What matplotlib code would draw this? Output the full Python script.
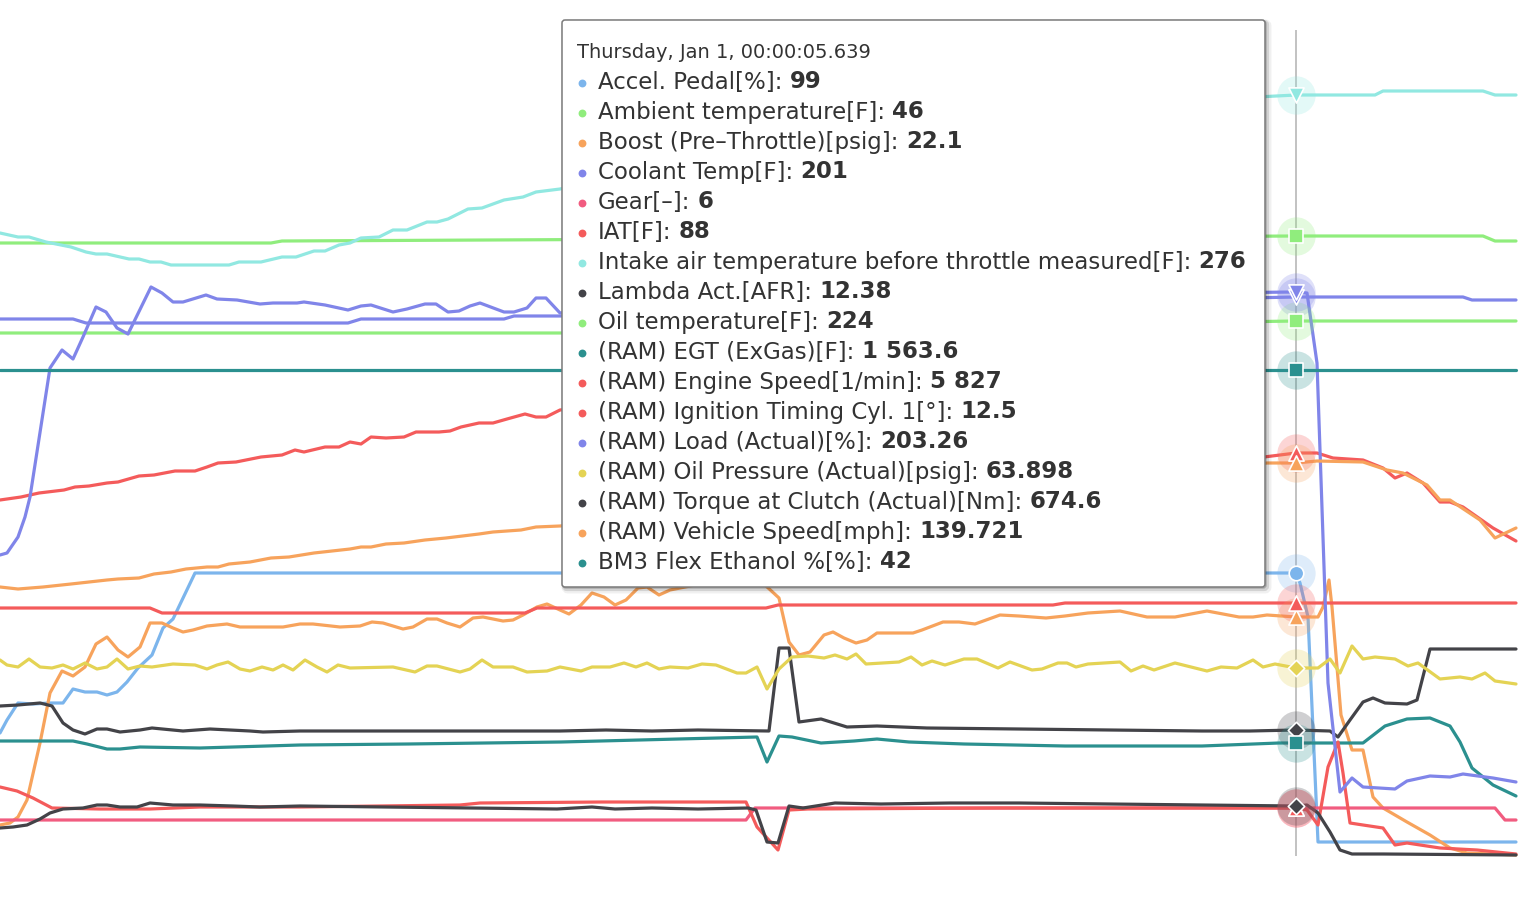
import numpy as np
import matplotlib.pyplot as plt
from matplotlib.patches import FancyBboxPatch

# traces: (sample position, level) with level counted down from the top
accel_pedal = [(0, 733), (7, 720), (18, 703), (33, 704), (50, 703), (63, 703), (73, 689), (85, 692), (97, 692),
               (107, 695), (117, 692), (127, 682), (138, 668), (152, 655), (163, 628), (173, 619), (195, 573),
               (700, 573), (1296, 573), (1300, 583), (1308, 617), (1318, 842), (1516, 842)]
ambient_temp = [(0, 243), (271, 243), (282, 241), (900, 238), (1296, 236), (1483, 236), (1495, 241), (1516, 241)]
boost = [(0, 825), (10, 823), (18, 817), (27, 800), (40, 743), (50, 693), (62, 671), (73, 676), (85, 667), (96, 644),
         (107, 637), (118, 650), (128, 657), (140, 647), (150, 623), (162, 623), (173, 628), (183, 632), (193, 630),
         (207, 626), (227, 624), (240, 627), (283, 627), (300, 624), (313, 624), (340, 627), (360, 626), (372, 622),
         (383, 623), (403, 629), (413, 627), (427, 619), (437, 619), (447, 623), (460, 627), (473, 618), (483, 617),
         (503, 621), (513, 620), (523, 615), (537, 607), (547, 604), (560, 610), (569, 614), (581, 605), (592, 593),
         (604, 597), (615, 605), (626, 600), (638, 588), (647, 587), (659, 595), (670, 590), (700, 584), (740, 582),
         (765, 585), (779, 598), (789, 642), (799, 655), (810, 652), (824, 635), (833, 632), (844, 638), (856, 643),
         (867, 640), (877, 633), (895, 633), (913, 633), (922, 630), (943, 622), (959, 622), (975, 624), (1000, 615),
         (1019, 616), (1046, 618), (1065, 616), (1088, 613), (1120, 611), (1147, 617), (1175, 617), (1207, 611),
         (1239, 617), (1253, 617), (1267, 615), (1296, 617), (1318, 617), (1323, 607), (1329, 580), (1332, 607),
         (1341, 715), (1352, 750), (1363, 750), (1373, 797), (1383, 808), (1407, 822), (1430, 835), (1450, 848),
         (1467, 853), (1516, 855)]
coolant = [(0, 319), (73, 319), (86, 323), (348, 323), (361, 319), (504, 319), (514, 316), (560, 316), (900, 305),
           (1296, 297), (1463, 297), (1472, 300), (1516, 300)]
gear = [(0, 820), (746, 820), (755, 808), (1296, 808), (1495, 808), (1505, 820), (1516, 820)]
iat = [(0, 608), (150, 608), (162, 613), (525, 613), (537, 608), (766, 608), (778, 605), (1053, 605), (1065, 603),
       (1516, 603)]
intake_air_throttle = [(0, 233), (18, 237), (29, 237), (46, 242), (71, 247), (86, 252), (96, 254), (107, 254),
                       (129, 259), (139, 259), (150, 262), (161, 262), (171, 265), (229, 265), (239, 262), (261, 262),
                       (282, 257), (296, 257), (314, 251), (325, 251), (339, 245), (350, 243), (361, 238), (379, 237),
                       (393, 230), (407, 230), (427, 222), (437, 222), (448, 219), (468, 209), (482, 208), (504, 200),
                       (523, 197), (536, 192), (560, 189), (700, 160), (900, 125), (1100, 105), (1296, 95),
                       (1375, 95), (1383, 91), (1483, 91), (1495, 95), (1516, 95)]
lambda_afr = [(0, 706), (18, 705), (40, 703), (52, 706), (63, 723), (73, 730), (85, 734), (97, 729), (107, 729),
              (120, 732), (140, 730), (152, 728), (183, 731), (210, 729), (250, 731), (263, 732), (300, 731),
              (560, 731), (606, 730), (652, 731), (698, 730), (769, 731), (779, 648), (789, 648), (799, 722),
              (821, 719), (847, 727), (877, 726), (927, 728), (1019, 729), (1110, 730), (1202, 731), (1250, 731),
              (1296, 730), (1330, 731), (1338, 737), (1350, 720), (1363, 702), (1373, 698), (1385, 703), (1407, 704),
              (1417, 700), (1430, 649), (1516, 649)]
oil_temp = [(0, 333), (560, 333), (900, 327), (1296, 321), (1516, 321)]
egt = [(0, 741), (73, 741), (87, 744), (107, 749), (120, 749), (140, 747), (200, 748), (300, 745), (408, 744),
       (561, 742), (757, 737), (767, 762), (779, 736), (792, 737), (821, 743), (854, 741), (877, 739), (909, 742),
       (964, 744), (1065, 746), (1202, 746), (1279, 743), (1296, 743), (1363, 743), (1385, 726), (1407, 719),
       (1430, 718), (1450, 726), (1460, 742), (1472, 768), (1493, 785), (1516, 796)]
engine_speed = [(0, 500), (21, 497), (39, 493), (64, 490), (75, 487), (89, 486), (107, 483), (118, 482), (139, 476),
                (154, 475), (175, 471), (195, 471), (207, 467), (218, 463), (236, 462), (261, 457), (282, 455),
                (295, 450), (304, 452), (325, 447), (339, 447), (350, 442), (361, 444), (371, 437), (386, 438),
                (404, 437), (416, 432), (439, 432), (450, 431), (461, 427), (479, 423), (493, 423), (507, 419),
                (525, 414), (536, 417), (546, 417), (560, 410), (650, 400), (745, 393), (770, 470), (790, 520),
                (1000, 490), (1296, 453), (1317, 453), (1333, 458), (1363, 460), (1383, 468), (1395, 478),
                (1407, 473), (1423, 483), (1440, 502), (1450, 502), (1463, 507), (1493, 528), (1516, 541)]
ignition = [(0, 787), (17, 791), (33, 798), (52, 808), (100, 809), (150, 809), (200, 807), (300, 807), (460, 805),
            (480, 803), (602, 802), (746, 802), (757, 827), (778, 850), (789, 810), (808, 809), (1000, 808),
            (1296, 808), (1307, 810), (1318, 825), (1328, 767), (1338, 742), (1343, 773), (1350, 823), (1363, 825),
            (1383, 828), (1395, 845), (1407, 843), (1440, 848), (1477, 850), (1516, 854)]
load = [(0, 555), (7, 553), (18, 537), (25, 517), (30, 497), (50, 368), (62, 350), (73, 359), (83, 337), (96, 307),
        (106, 312), (117, 328), (128, 334), (151, 287), (162, 293), (173, 302), (183, 302), (206, 295), (217, 299),
        (237, 300), (260, 304), (273, 303), (297, 303), (304, 302), (325, 305), (348, 310), (361, 306), (371, 305),
        (393, 312), (407, 309), (425, 304), (436, 304), (448, 312), (459, 311), (470, 306), (480, 303), (504, 312),
        (514, 312), (527, 308), (536, 298), (546, 298), (560, 313), (700, 300), (760, 305), (780, 340), (800, 300),
        (1000, 295), (1296, 292), (1307, 293), (1317, 363), (1320, 450), (1328, 683), (1340, 792), (1352, 778),
        (1363, 787), (1395, 789), (1407, 781), (1430, 776), (1450, 777), (1463, 774), (1493, 778), (1516, 782)]
oil_pressure = [(0, 660), (7, 665), (18, 667), (29, 659), (40, 667), (52, 668), (63, 665), (73, 669), (85, 663),
                (97, 669), (107, 667), (117, 659), (128, 669), (140, 666), (152, 667), (173, 664), (195, 665),
                (207, 669), (217, 665), (228, 662), (240, 669), (250, 671), (262, 667), (273, 670), (283, 665),
                (293, 670), (305, 660), (317, 667), (327, 672), (338, 665), (350, 668), (393, 667), (415, 672),
                (427, 666), (437, 666), (460, 672), (470, 669), (482, 660), (493, 667), (513, 667), (527, 672),
                (547, 671), (560, 667), (581, 671), (592, 667), (610, 667), (624, 663), (636, 667), (647, 663),
                (659, 669), (670, 667), (688, 668), (702, 664), (716, 665), (737, 673), (746, 673), (757, 667),
                (767, 689), (779, 669), (792, 657), (808, 656), (824, 658), (835, 655), (847, 659), (856, 654),
                (866, 664), (899, 662), (911, 657), (922, 665), (932, 661), (945, 665), (964, 659), (977, 659),
                (998, 668), (1010, 662), (1032, 670), (1042, 669), (1058, 663), (1067, 663), (1076, 667), (1088, 664),
                (1120, 662), (1131, 671), (1143, 666), (1154, 670), (1175, 663), (1195, 668), (1207, 671),
                (1221, 667), (1237, 668), (1253, 660), (1263, 667), (1275, 664), (1296, 668), (1318, 668),
                (1330, 659), (1340, 673), (1352, 646), (1363, 659), (1375, 657), (1395, 659), (1408, 666),
                (1418, 663), (1440, 679), (1460, 677), (1472, 679), (1485, 673), (1495, 681), (1516, 684)]
torque = [(0, 828), (13, 827), (27, 825), (40, 819), (50, 813), (63, 809), (83, 808), (97, 805), (107, 805),
          (120, 807), (137, 807), (150, 803), (173, 805), (200, 805), (233, 806), (260, 807), (300, 806), (557, 809),
          (592, 807), (615, 809), (652, 808), (698, 809), (748, 808), (756, 810), (767, 842), (778, 843), (789, 806),
          (803, 808), (835, 803), (881, 804), (950, 803), (1019, 803), (1110, 804), (1202, 805), (1296, 806),
          (1307, 805), (1318, 813), (1330, 832), (1340, 850), (1352, 854), (1383, 854), (1516, 855)]
vehicle_speed = [(0, 587), (18, 589), (43, 587), (71, 584), (107, 580), (118, 579), (139, 578), (154, 574),
                 (171, 572), (186, 569), (207, 567), (218, 567), (229, 564), (250, 562), (271, 558), (289, 557),
                 (314, 553), (350, 549), (361, 547), (371, 547), (386, 544), (404, 543), (425, 540), (446, 538),
                 (479, 534), (493, 532), (521, 530), (536, 527), (560, 526), (900, 495), (1267, 463), (1296, 463),
                 (1317, 461), (1363, 462), (1387, 470), (1403, 473), (1427, 485), (1440, 500), (1450, 500),
                 (1480, 520), (1495, 538), (1516, 528)]
flex_ethanol = [(0, 370), (1296, 370), (1516, 370)]

# tooltip content
tip_header = "Thursday, Jan 1, 00:00:05.639"
tip_labels = ["Accel. Pedal[%]", "Ambient temperature[F]", "Boost (Pre\u2013Throttle)[psig]", "Coolant Temp[F]",
              "Gear[\u2013]", "IAT[F]", "Intake air temperature before throttle measured[F]", "Lambda Act.[AFR]",
              "Oil temperature[F]", "(RAM) EGT (ExGas)[F]", "(RAM) Engine Speed[1/min]",
              "(RAM) Ignition Timing Cyl. 1[\u00b0]", "(RAM) Load (Actual)[%]", "(RAM) Oil Pressure (Actual)[psig]",
              "(RAM) Torque at Clutch (Actual)[Nm]", "(RAM) Vehicle Speed[mph]", "BM3 Flex Ethanol %[%]"]
tip_values = ["99", "46", "22.1", "201", "6", "88", "276", "12.38", "224", "1 563.6", "5 827", "12.5", "203.26",
              "63.898", "674.6", "139.721", "42"]

series = [
    (accel_pedal, '#7cb5ec', 'o'),
    (ambient_temp, '#90ed7d', 's'),
    (boost, '#f7a35c', '^'),
    (coolant, '#8085e9', 'v'),
    (gear, '#f15c80', '^'),
    (iat, '#f45b5b', '^'),
    (intake_air_throttle, '#91e8e1', 'v'),
    (lambda_afr, '#434348', 'D'),
    (oil_temp, '#90ed7d', 's'),
    (egt, '#2b908f', 's'),
    (engine_speed, '#f45b5b', '^'),
    (ignition, '#f45b5b', '^'),
    (load, '#8085e9', 'v'),
    (oil_pressure, '#e4d354', 'D'),
    (torque, '#434348', 'D'),
    (vehicle_speed, '#f7a35c', '^'),
    (flex_ethanol, '#2b908f', 's'),
]
cross_x = 1296

W, H = 1534, 910
fig = plt.figure(figsize=(W / 100, H / 100), dpi=100)
ax = fig.add_axes([0, 0, 1, 1])
ax.set_xlim(0, W)
ax.set_ylim(H, 0)
ax.axis('off')

# crosshair
ax.vlines(cross_x, 30, 856, color='#b8b8b8', lw=1.2, zorder=1)

for pts, col, mk in series:
    xs = np.array([p[0] for p in pts], float)
    ys = np.array([p[1] for p in pts], float)
    ax.plot(xs, ys, color=col, lw=2.3, solid_joinstyle='round', solid_capstyle='round', zorder=2)

# hover halos and markers
for pts, col, mk in series:
    xs = np.array([p[0] for p in pts], float)
    ys = np.array([p[1] for p in pts], float)
    yc = np.interp(cross_x, xs, ys)
    ax.scatter([cross_x], [yc], s=760, color=col, alpha=0.25, lw=0, zorder=3)
for pts, col, mk in series:
    xs = np.array([p[0] for p in pts], float)
    ys = np.array([p[1] for p in pts], float)
    yc = np.interp(cross_x, xs, ys)
    size = {'o': 110, 's': 105, 'D': 70, '^': 120, 'v': 120}[mk]
    ax.scatter([cross_x], [yc], s=size, marker=mk, color=col, edgecolors='white', linewidths=1.2, zorder=4)

# tooltip box with a soft shadow
bx, by, bw, bh = 562, 20, 703, 567
for off, a, lw in [(3, 0.06, 5), (2, 0.12, 3), (1, 0.2, 1)]:
    ax.add_patch(FancyBboxPatch((bx + off, by + off), bw, bh, boxstyle='round,pad=0,rounding_size=3',
                                facecolor='none', edgecolor='black', alpha=a, lw=lw, zorder=5))
ax.add_patch(FancyBboxPatch((bx, by), bw, bh, boxstyle='round,pad=0,rounding_size=3',
                            facecolor='white', edgecolor='#7a7a7a', lw=1.1, zorder=6))

fig.canvas.draw()
r = fig.canvas.get_renderer()

# fit font sizes to the widths seen in the screenshot
probe = ax.text(0, 0, tip_header, fontsize=10, family='DejaVu Sans')
head_size = 10 * 295 / probe.get_window_extent(r).width
probe.remove()
probe = ax.text(0, 0, tip_labels[6] + ": " + tip_values[6], fontsize=13, family='DejaVu Sans')
row_size = 13 * 642 / probe.get_window_extent(r).width
probe.remove()

ax.text(577, 53, tip_header, fontsize=head_size, color='#333333', va='center', zorder=7)
for i, (lab, val) in enumerate(zip(tip_labels, tip_values)):
    y = 82 + 30 * i
    col = series[i][1]
    ax.scatter([582], [y + 1], s=32, color=col, lw=0, zorder=7)
    t = ax.text(598, y, lab + ":", fontsize=row_size, color='#333333', va='center', zorder=7)
    w = t.get_window_extent(r).width
    ax.text(598 + w + row_size * 0.45, y, val, fontsize=row_size, fontweight='bold', color='#333333',
            va='center', zorder=7)

fig.savefig('out.png', dpi=100)
